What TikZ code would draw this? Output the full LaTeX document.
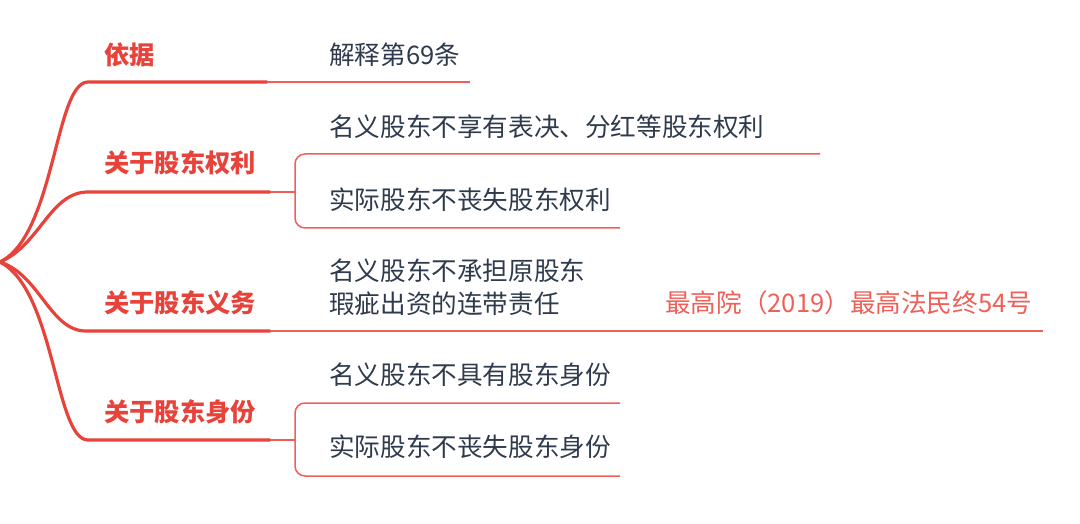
\documentclass[tikz,border=0pt]{standalone}
\usepackage{fontspec}
\newfontfamily\cjk{Noto Sans CJK SC}
\definecolor{trunkred}{HTML}{E8433B}
\definecolor{twigred}{HTML}{EF5F58}
\definecolor{leafgray}{HTML}{2F3B4C}
\tikzset{
branch/.style={anchor=west, inner sep=0pt, text=trunkred, font=\cjk\bfseries\fontsize{25.3}{30}\selectfont},
leaf/.style={anchor=west, inner sep=0pt, text=leafgray, align=left, font=\cjk\fontsize{25.6}{33}\selectfont},
trunk/.style={draw=trunkred, line width=3.2pt, line cap=round},
twig/.style={draw=twigred, line width=1.5pt}
}
\begin{document}
\begin{tikzpicture}[x=1pt, y=-1pt]
\useasboundingbox (0,0) rectangle (1080,524);
\coordinate (root) at (0,262);
\node[branch] (yj) at (104,55) {依据};
\node[leaf] (yj1) at (329,55) {解释第69条};
\node[branch] (ql) at (104,163) {关于股东权利};
\node[leaf] (ql1) at (329,127) {名义股东不享有表决、分红等股东权利};
\node[leaf] (ql2) at (329,200) {实际股东不丧失股东权利};
\node[branch] (yw) at (104,303) {关于股东义务};
\node[leaf] (yw1) at (329,287.5) {名义股东不承担原股东\\瑕疵出资的连带责任};
\node[leaf, text=twigred] (yw2) at (665,303) {最高院（2019）最高法民终54号};
\node[branch] (sf) at (104,412) {关于股东身份};
\node[leaf] (sf1) at (329,375) {名义股东不具有股东身份};
\node[leaf] (sf2) at (329,447) {实际股东不丧失股东身份};
\coordinate (yjs) at (88,82); \coordinate (yjm) at (267,82); \coordinate (yje) at (470,82);
\coordinate (qls) at (88,192); \coordinate (qlm) at (270,192); \coordinate (qlb) at (295,192);
\coordinate (ql1e) at (820,154); \coordinate (ql2e) at (620,228);
\coordinate (yws) at (86,331); \coordinate (ywm) at (270,331); \coordinate (ywe) at (1043,331);
\coordinate (sfs) at (88,440); \coordinate (sfm) at (270,440); \coordinate (sfb) at (295,440);
\coordinate (sf1e) at (620,403); \coordinate (sf2e) at (620,476);
\draw[trunk] (root) .. controls (55,235) and (55,82) .. (yjs) -- (yjm);
\draw[trunk] (root) .. controls (40,245) and (50,192) .. (qls) -- (qlm);
\draw[trunk] (root) .. controls (40,275) and (50,331) .. (yws) -- (ywm);
\draw[trunk] (root) .. controls (55,290) and (55,440) .. (sfs) -- (sfm);
\draw[twig] (yjm) -- (yje);
\draw[twig] (qlm) -- (qlb);
\draw[twig, rounded corners=10pt] (ql1e) -- (qlb |- ql1e) -- (qlb |- ql2e) -- (ql2e);
\draw[twig] (ywm) -- (ywe);
\draw[twig] (sfm) -- (sfb);
\draw[twig, rounded corners=10pt] (sf1e) -- (sfb |- sf1e) -- (sfb |- sf2e) -- (sf2e);
\end{tikzpicture}
\end{document}
